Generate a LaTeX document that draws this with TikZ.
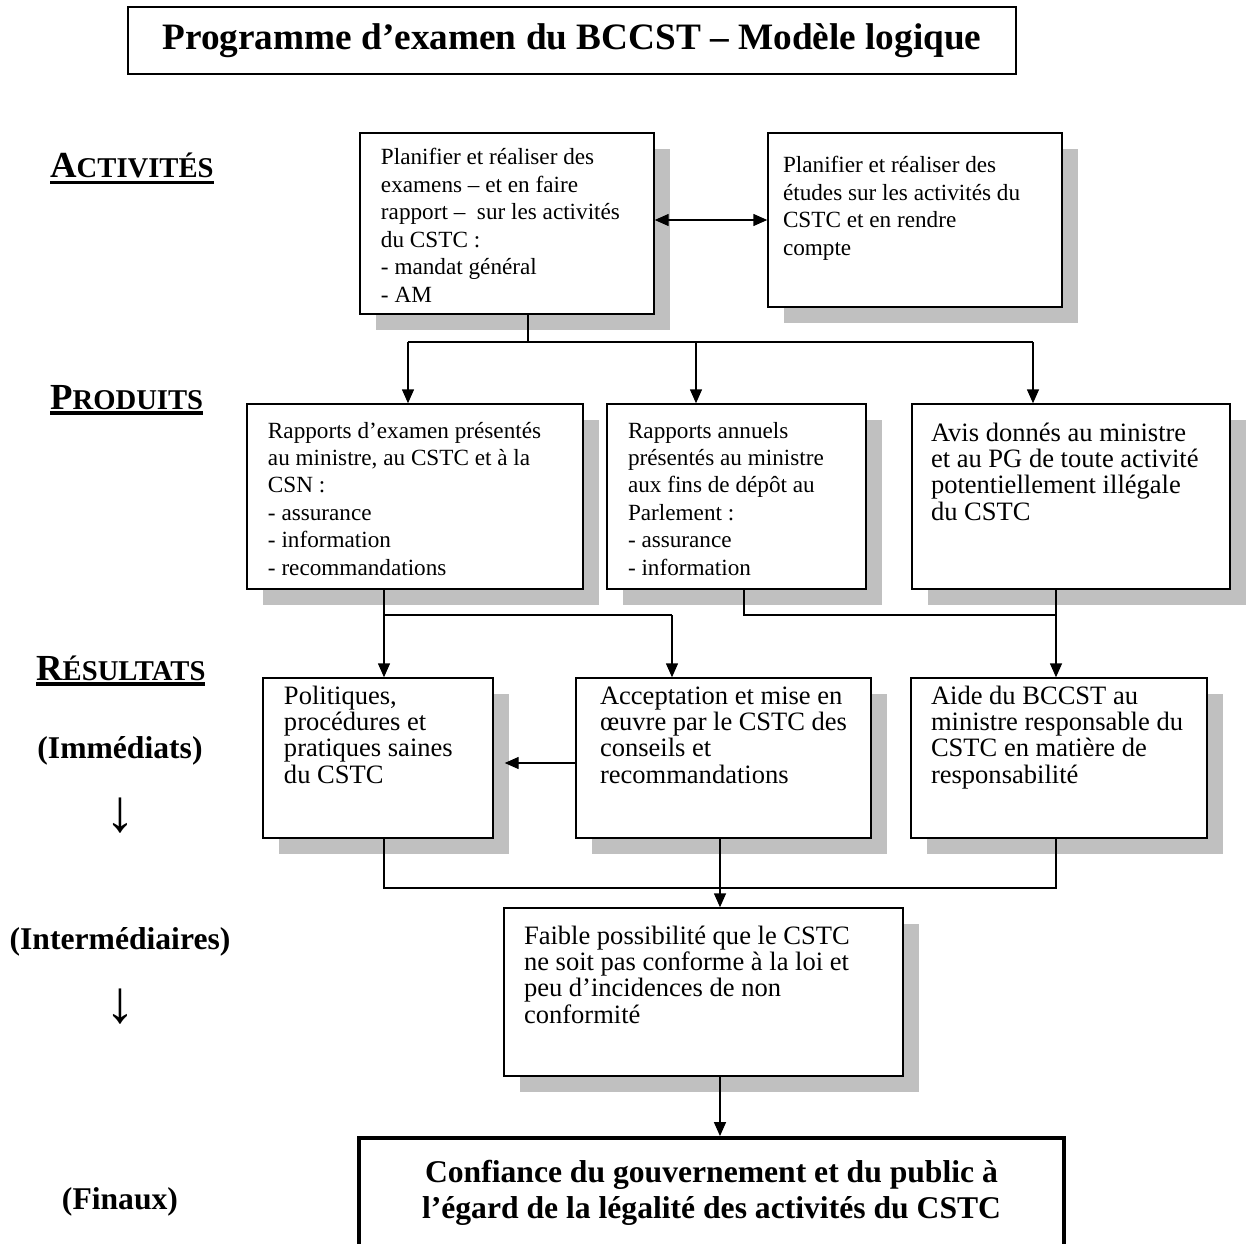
\documentclass[tikz,border=0pt]{standalone}
\usepackage{fontspec}
\setmainfont{Liberation Serif}
\usetikzlibrary{shapes, arrows.meta, shadows}
\definecolor{shadowgray}{RGB}{192,192,192}
\newcommand{\boxtext}[4]{\parbox[t][#2][t]{#1}{\raggedright\rule{0pt}{#3}#4}}
\newcommand{\tierhead}[2]{\vtop{\hbox{\bfseries\fontsize{20.9}{24}\selectfont #1\fontsize{16.3}{20}\selectfont #2}\kern1.2pt\hrule height 1.8pt}}
\tikzstyle{arrow} = [thick,->,>={Triangle[length=0.28cm,width=0.24cm]}]
\tikzstyle{biarrow} = [thick,<->,>={Triangle[length=0.28cm,width=0.24cm]}]
\tikzstyle{line} = [thick]
\tikzstyle{titlebox} = [rectangle, draw=black, thick, minimum width=17.76cm, minimum height=1.34cm, font=\bfseries\fontsize{21.2}{25}\selectfont]
\tikzstyle{textbox} = [rectangle, draw=black, thick, fill=white, inner ysep=0pt, inner xsep=0.42cm, drop shadow={shadow xshift=0.32cm, shadow yshift=-0.32cm, fill=shadowgray, opacity=1}, font=\fontsize{13.2}{15.6}\selectfont]
\tikzstyle{bigbox} = [textbox, font=\fontsize{15.1}{15}\selectfont]
\tikzstyle{goal} = [rectangle, draw=black, line width=2.2pt, fill=white, inner ysep=0pt, inner xsep=0.25cm, font=\bfseries\fontsize{18}{20.5}\selectfont]
\tikzstyle{stage} = [font=\bfseries\fontsize{18}{22}\selectfont]
\tikzstyle{down} = [font=\fontsize{34}{38}\selectfont]

\begin{document}
\begin{tikzpicture}[node distance = 1cm]
				\useasboundingbox (-11.44,0.81) rectangle (13.54,-24.05);
				%\node(label)[type]{name}
				\node(title)[titlebox]{Programme d’examen du BCCST – Modèle logique};
				
				\node(act1)[textbox, below of = title, xshift = -1.30cm, yshift = -2.66cm]{\boxtext{5.04cm}{3.62cm}{0.64cm}{Planifier et réaliser des\\examens – et en faire\\rapport –~ sur les activités\\du CSTC :\\- mandat général\\- AM}};
				\node(act2)[textbox, inner xsep = 0.30cm, right of = act1, xshift = 7.16cm, yshift = 0.07cm]{\boxtext{5.28cm}{3.48cm}{0.80cm}{Planifier et réaliser des\\études sur les activités du\\CSTC et en rendre\\compte}};
				
				\node(prod1)[textbox, below of = act1, xshift = -1.84cm, yshift = -4.46cm]{\boxtext{5.88cm}{3.70cm}{0.68cm}{Rapports d’examen présentés\\au ministre, au CSTC et à la\\CSN :\\- assurance\\- information\\- recommandations}};
				\node(prod2)[textbox, right of = prod1, xshift = 5.43cm]{\boxtext{4.34cm}{3.70cm}{0.68cm}{Rapports annuels\\présentés au ministre\\aux fins de dépôt au\\Parlement :\\- assurance\\- information}};
				\node(prod3)[bigbox, inner xsep = 0.38cm, right of = prod2, xshift = 5.69cm]{\boxtext{5.60cm}{3.70cm}{0.74cm}{Avis donnés au ministre\\et au PG de toute activité\\potentiellement illégale\\du CSTC}};
				
				\node(res1)[bigbox, below of = prod1, xshift = -0.74cm, yshift = -4.23cm]{\boxtext{3.76cm}{3.20cm}{0.52cm}{Politiques,\\procédures et\\pratiques saines\\du CSTC}};
				\node(res2)[bigbox, inner xsep = 0.48cm, right of = res1, xshift = 5.91cm]{\boxtext{4.94cm}{3.20cm}{0.52cm}{Acceptation et mise en\\œuvre par le CSTC des\\conseils et\\recommandations}};
				\node(res3)[bigbox, inner xsep = 0.40cm, right of = res2, xshift = 5.71cm]{\boxtext{5.12cm}{3.20cm}{0.52cm}{Aide du BCCST au\\ministre responsable du\\CSTC en matière de\\responsabilité}};
				
				\node(inter)[bigbox, inner xsep = 0.40cm, below of = res2, xshift = -0.40cm, yshift = -3.68cm]{\boxtext{7.18cm}{3.36cm}{0.72cm}{Faible possibilité que le CSTC\\ne soit pas conforme à la loi et\\peu d’incidences de non\\conformité}};
				
				\node(final)[goal, below of = inter, xshift = 0.16cm, yshift = -3.12cm]{\parbox[t][2.4cm][t]{13.6cm}{\centering\rule{0pt}{0.88cm}Confiance du gouvernement et du public à\\l’égard de la légalité des activités du CSTC}};
				
				%tiers
				\node(activ)[anchor = base west] at (-10.56,-2.75){\tierhead{A}{CTIVITÉS}};
				\node(prods)[anchor = base west] at (-10.56,-7.37){\tierhead{P}{RODUITS}};
				\node(results)[anchor = base west] at (-10.84,-12.79){\tierhead{R}{ÉSULTATS}};
				\node(immed)[stage] at (-9.04,-14.20){(Immédiats)};
				\node(down1)[down, below of = immed, yshift = -0.30cm]{↓};
				\node(intlab)[stage, below of = down1, yshift = -1.52cm]{(Intermédiaires)};
				\node(down2)[down, below of = intlab, yshift = -0.30cm]{↓};
				\node(finals)[stage, below of = down2, yshift = -2.90cm]{(Finaux)};
				
				%junctions
				\coordinate(fanmid) at (-0.88,-6.03);
				\coordinate(fanL) at (-3.28,-6.03);
				\coordinate(fanC) at (2.48,-6.03);
				\coordinate(fanR) at (9.22,-6.03);
				\coordinate(joinA) at (-3.76,-11.49);
				\coordinate(joinAR) at (2.00,-11.49);
				\coordinate(joinB) at (3.44,-11.49);
				\coordinate(joinBR) at (9.68,-11.49);
				\coordinate(joinC) at (-3.76,-16.95);
				\coordinate(joinCM) at (2.96,-16.95);
				\coordinate(joinCR) at (9.68,-16.95);
				
				%arrows
					\draw [biarrow] (act2.west -| act1.east) -- (act2.west);
					\draw [line] (act1.south -| fanmid) -- (fanmid);
					\draw [line] (fanL) -- (fanR);
					\draw [arrow] (fanL) -- (fanL |- prod1.north);
					\draw [arrow] (fanC) -- (fanC |- prod2.north);
					\draw [arrow] (fanR) -- (fanR |- prod3.north);
					\draw [line] (prod1.south -| joinA) -- (joinA) -- (joinAR);
					\draw [arrow] (joinA) -- (joinA |- res1.north);
					\draw [arrow] (joinAR) -- (joinAR |- res2.north);
					\draw [line] (prod2.south -| joinB) -- (joinB) -- (joinBR);
					\draw [arrow] (prod3.south -| joinBR) -- (joinBR |- res3.north);
					\draw [arrow, shorten >= 0.22cm] ([yshift = -0.10cm]res2.west) -- ([yshift = -0.10cm]res1.east);
					\draw [line] (res1.south -| joinC) -- (joinC) -- (joinCR) -- (res3.south -| joinCR);
					\draw [line] (res2.south -| joinCM) -- (joinCM);
					\draw [arrow] (joinCM) -- (joinCM |- inter.north);
					\draw [arrow] (inter.south -| joinCM) -- (joinCM |- final.north);
\end{tikzpicture}
\end{document}
